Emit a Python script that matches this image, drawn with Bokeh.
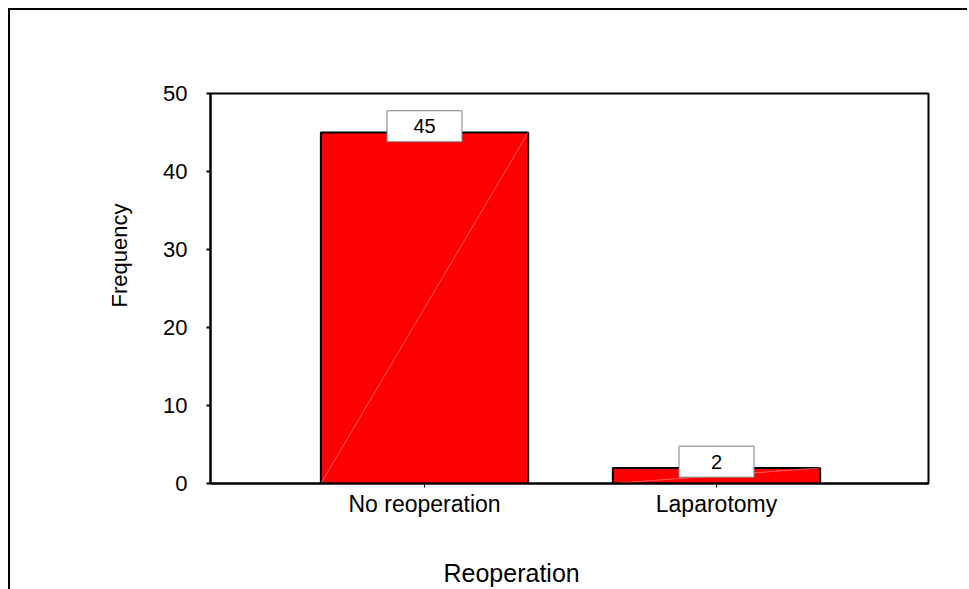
from bokeh.plotting import figure
from bokeh.models import Range1d, FixedTicker, ColumnDataSource, Title
from bokeh.core.properties import value
from bokeh.embed import file_html
from bokeh.resources import INLINE

categories = ["No reoperation", "Laparotomy"]
frequencies = [45, 2]
y_ticks = [0, 10, 20, 30, 40, 50]
x_title = "Reoperation"
y_title = "Frequency"

xs = [i + 1 for i in range(len(categories))]
bar_w = 0.71
src = ColumnDataSource(dict(
    x=xs,
    top=frequencies,
    x0=[x - bar_w / 2 for x in xs],
    x1=[x + bar_w / 2 for x in xs],
    y0=[0 for _ in xs],
    label=[str(v) for v in frequencies],
    ly=[v + 0.8 for v in frequencies],
))

FONT = "Liberation Sans"
xr = Range1d(1 - 0.733, len(categories) + 0.726)
yr = Range1d(y_ticks[0], y_ticks[-1])

p = figure(width=957, height=577, output_backend="svg", toolbar_location=None,
           x_range=xr, y_range=yr,
           frame_width=718, frame_height=390,
           min_border_left=200, min_border_top=83, min_border_right=39, min_border_bottom=104)
p.styles = {"margin-left": "8px", "margin-top": "8px",
            "border-top": "2px solid black", "border-left": "2px solid black"}
p.background_fill_color = "white"
p.border_fill_color = "white"
p.outline_line_color = "black"
p.outline_line_width = 2
p.grid.visible = False

p.vbar(x="x", top="top", width=bar_w, bottom=0, source=src,
       fill_color="#ff0000", line_color="black", line_width=2)
p.segment(x0="x0", y0="y0", x1="x1", y1="top", source=src,
          line_color="#ff9090", line_width=0.8, line_alpha=0.8)

p.rect(x="x", y="ly", width=75, height=31, width_units="screen", height_units="screen",
       source=src, fill_color="white", line_color="#808080", line_width=1)
p.text(x="x", y="ly", text="label", source=src, text_align="center", text_baseline="middle",
       text_font=value(FONT), text_font_size="20px", text_color="black")

xa = p.xaxis[0]
xa.ticker = FixedTicker(ticks=xs)
xa.major_label_overrides = {x: c for x, c in zip(xs, categories)}
xa.axis_line_width = 2
xa.major_tick_in = 0
xa.major_tick_out = 4
xa.minor_tick_line_color = None
xa.major_label_standoff = 3
xa.major_label_text_font = FONT
xa.major_label_text_font_size = "23px"
xa.major_label_text_color = "black"

ya = p.yaxis[0]
ya.ticker = FixedTicker(ticks=y_ticks)
ya.axis_line_width = 2
ya.major_tick_in = 0
ya.major_tick_out = 4
ya.major_tick_line_width = 2
ya.minor_tick_line_color = None
ya.major_label_standoff = 19
ya.major_label_text_font = FONT
ya.major_label_text_font_size = "22px"
ya.major_label_text_color = "black"

p.add_layout(Title(text=x_title, align="left", offset=233, standoff=74,
                   text_font=FONT, text_font_size="25px", text_font_style="normal",
                   text_color="black"), "below")
p.add_layout(Title(text=y_title, align="left", offset=176, standoff=58,
                   text_font=FONT, text_font_size="22px", text_font_style="normal",
                   text_color="black"), "left")

open("out.html", "w").write(file_html(p, INLINE))
